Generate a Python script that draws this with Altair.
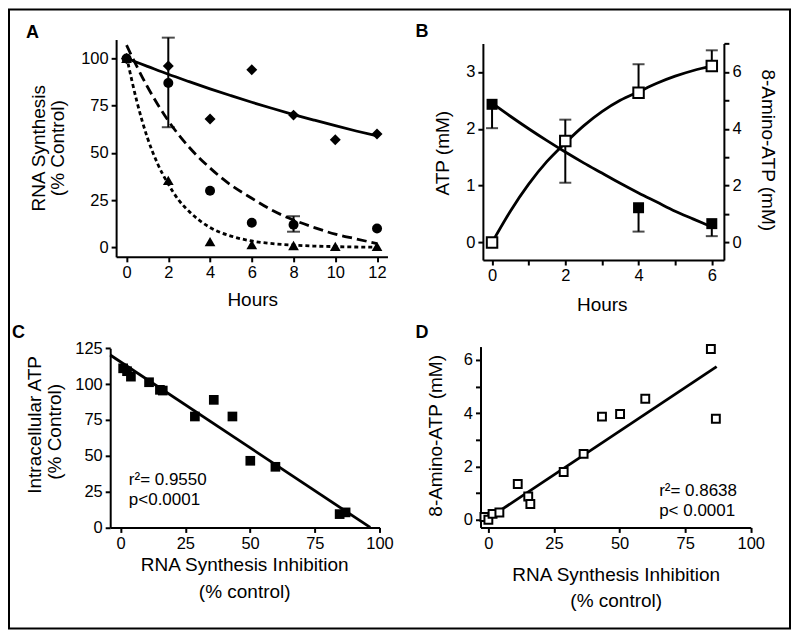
import altair as alt
import pandas as pd

FONT = "Liberation Sans"
O = 9  # page position of the view origin (8px margin + 1px padding)

# ---------------- Panel A data ----------------
a_hours = [0, 2, 4, 6, 8, 10, 12]
a_diamond = [100, 96, 68, 94, 70, 57, 60]
a_circle_hours = [0, 2, 4, 6, 8, 12]
a_circle = [100, 87, 30, 13, 12, 10]
a_triangle = [100, 35.5, 3, 1.5, 1, 0.5, 0.5]
a_err_hours = [2, 8]
a_err_lo = [63.6, 8.3]
a_err_hi = [111, 16.5]
a_fit_hours = [0, 1, 2, 3, 4, 5, 6, 7, 8, 9, 10, 11, 12]
a_fit_solid = [100, 95.8, 91.6, 87.7, 83.9, 80.3, 76.8, 73.5, 70.3, 67.3, 64.4, 61.6, 59]
a_fit_dashed = [107, 85, 67, 53, 42, 33, 26, 19.5, 14.5, 10.5, 7, 4.5, 2]
a_fit_dot_hours = [0, 0.5, 1, 1.5, 2, 2.5, 3, 4, 5, 6, 7, 8, 9, 10, 11, 12]
a_fit_dotted = [101, 77, 58, 44, 33.5, 25, 19, 10.5, 6, 3.4, 2, 1.2, 0.7, 0.4, 0.2, 0.1]

# ---------------- Panel B data ----------------
b_hours = [0, 2, 4, 6]
b_atp = [2.43, 1.79, 0.61, 0.33]
b_atp_err_lo = [2.01, 1.05, 0.19, 0.11]
b_amino = [0, 3.57, 5.27, 6.21]
b_amino_err_hi = [0, 4.32, 6.27, 6.76]
b_fit_hours = [0, 0.5, 1, 1.5, 2, 2.5, 3, 3.5, 4, 4.5, 5, 5.5, 6]
b_fit_atp = [2.45, 2.22, 2.0, 1.79, 1.59, 1.4, 1.22, 1.04, 0.87, 0.71, 0.55, 0.41, 0.27]
b_fit_amino = [0, 1.1, 2.05, 2.85, 3.5, 4.1, 4.6, 5.0, 5.3, 5.6, 5.85, 6.05, 6.2]

# ---------------- Panel C data ----------------
c_inhib = [1, 2.5, 4, 11, 15.2, 16.3, 28.7, 36, 43.2, 50.1, 59.8, 84.6, 86.9]
c_atp = [111, 109, 105.2, 101.3, 96, 95.5, 77.4, 89, 77.4, 46.5, 42.3, 9.3, 10.5]
c_fit_x = [-4, 96.4]
c_fit_y = [120.3, 0]

# ---------------- Panel D data ----------------
d_inhib = [-1.5, 0, 1.6, 4.2, 11.2, 15.2, 16, 28.7, 36.3, 43.3, 50.2, 59.8, 84.8, 86.7]
d_amino = [0.1, 0, 0.22, 0.27, 1.34, 0.87, 0.59, 1.79, 2.47, 3.87, 3.97, 4.54, 6.41, 3.79]
d_fit_x = [0, 87]
d_fit_y = [0.05, 5.75]

# ---------------- texts ----------------
panel_letters = ["A", "B", "C", "D"]
hours_title = "Hours"
a_ytitle = ["RNA Synthesis", "(% Control)"]
b_ytitle_left = "ATP (mM)"
b_ytitle_right = "8-Amino-ATP (mM)"
c_ytitle = ["Intracellular ATP", "(% Control)"]
cd_xtitle = ["RNA Synthesis Inhibition", "(% control)"]
d_ytitle = "8-Amino-ATP (mM)"
c_stats = ["r\u00b2= 0.9550", "p<0.0001"]
d_stats = ["r\u00b2= 0.8638", "p< 0.0001"]

W, H = 782, 620
TS = 19  # axis title font size


def rel(v):
    return v - O


def xax(values, offset_y, label_expr=None):
    kw = dict(orient="bottom", values=values, offset=-(H - offset_y), title=None,
              labelFlush=False, labelOverlap=False, labelBound=False)
    if label_expr:
        kw["labelExpr"] = label_expr
    return alt.Axis(**kw)


def yax(values, offset_x, orient="left", label_expr=None):
    off = -offset_x if orient == "left" else -(W - offset_x)
    kw = dict(orient=orient, values=values, offset=off, title=None,
              labelFlush=False, labelOverlap=False, labelBound=False)
    if label_expr:
        kw["labelExpr"] = label_expr
    return alt.Axis(**kw)


EVEN = "datum.value % 2 == 0 ? datum.label : ''"

# ---------- Panel A ----------
axA_x = dict(scale=alt.Scale(domain=[-0.5, 12.5], range=[107.25, 378.95], nice=False, zero=False),
             axis=xax(a_hours, 247.76))
axA_y = dict(scale=alt.Scale(domain=[-5, 110], range=[247.76, 30.18], nice=False, zero=False),
             axis=yax([0, 25, 50, 75, 100], 107.25))

dfA_d = pd.DataFrame({"h": a_hours, "v": a_diamond})
dfA_c = pd.DataFrame({"h": a_circle_hours, "v": a_circle})
dfA_t = pd.DataFrame({"h": a_hours, "v": a_triangle})
dfA_e = pd.DataFrame({"h": a_err_hours, "lo": a_err_lo, "hi": a_err_hi})
dfA_f = pd.DataFrame({"h": a_fit_hours, "s": a_fit_solid, "d": a_fit_dashed})
dfA_fd = pd.DataFrame({"h": a_fit_dot_hours, "v": a_fit_dotted})

XA = alt.X("h:Q", **axA_x)

A = alt.layer(
    alt.Chart(dfA_e).mark_rule(color="black", strokeWidth=2).encode(
        x=XA, y=alt.Y("lo:Q", **axA_y), y2="hi:Q"),
    alt.Chart(dfA_e).mark_tick(orient="horizontal", color="black", size=13, thickness=2).encode(
        x=XA, y=alt.Y("lo:Q", **axA_y)),
    alt.Chart(dfA_e).mark_tick(orient="horizontal", color="black", size=13, thickness=2).encode(
        x=XA, y=alt.Y("hi:Q", **axA_y)),
    alt.Chart(dfA_f).mark_line(color="black", strokeWidth=2.8, interpolate="monotone").encode(
        x=XA, y=alt.Y("s:Q", **axA_y)),
    alt.Chart(dfA_f).mark_line(color="black", strokeWidth=2.8, interpolate="monotone",
                               strokeDash=[10, 5]).encode(x=XA, y=alt.Y("d:Q", **axA_y)),
    alt.Chart(dfA_fd).mark_line(color="black", strokeWidth=2.8, interpolate="monotone",
                                strokeDash=[4, 3]).encode(x=XA, y=alt.Y("v:Q", **axA_y)),
    alt.Chart(dfA_d).mark_point(shape="diamond", filled=True, color="black", size=121, opacity=1).encode(
        x=XA, y=alt.Y("v:Q", **axA_y)),
    alt.Chart(dfA_t).mark_point(shape="triangle-up", filled=True, color="black", size=115, opacity=1).encode(
        x=XA, y=alt.Y("v:Q", **axA_y)),
    alt.Chart(dfA_c).mark_point(shape="circle", filled=True, color="black", size=100, opacity=1).encode(
        x=XA, y=alt.Y("v:Q", **axA_y)),
)

# ---------- Panel B ----------
XB = alt.X("h:Q", scale=alt.Scale(domain=[-0.25, 6.33], range=[474.5, 715.8], nice=False, zero=False),
           axis=xax([0, 1, 2, 3, 4, 5, 6], 250.94, EVEN))
axB_l = dict(scale=alt.Scale(domain=[-0.31, 3.5], range=[250.94, 34.15], nice=False, zero=False),
             axis=yax([0, 1, 2, 3], 474.5))
axB_r = dict(scale=alt.Scale(domain=[-0.62, 7.0], range=[250.94, 34.15], nice=False, zero=False),
             axis=yax([0, 1, 2, 3, 4, 5, 6, 7], 715.8, orient="right", label_expr=EVEN))

dfB_atp = pd.DataFrame({"h": b_hours, "v": b_atp, "lo": b_atp_err_lo})
dfB_am = pd.DataFrame({"h": b_hours, "v": b_amino, "hi": b_amino_err_hi})
dfB_f = pd.DataFrame({"h": b_fit_hours, "atp": b_fit_atp, "am": b_fit_amino})

B_left = alt.layer(
    alt.Chart(dfB_atp).mark_rule(color="black", strokeWidth=2).encode(
        x=XB, y=alt.Y("lo:Q", **axB_l), y2="v:Q"),
    alt.Chart(dfB_atp).mark_tick(orient="horizontal", color="black", size=12, thickness=2).encode(
        x=XB, y=alt.Y("lo:Q", **axB_l)),
    alt.Chart(dfB_f).mark_line(color="black", strokeWidth=2.8, interpolate="monotone").encode(
        x=XB, y=alt.Y("atp:Q", **axB_l)),
    alt.Chart(dfB_atp).mark_point(shape="square", filled=True, color="black", size=121, opacity=1).encode(
        x=XB, y=alt.Y("v:Q", **axB_l)),
)
B_right = alt.layer(
    alt.Chart(dfB_am).mark_rule(color="black", strokeWidth=2).encode(
        x=XB, y=alt.Y("v:Q", **axB_r), y2="hi:Q"),
    alt.Chart(dfB_am).mark_tick(orient="horizontal", color="black", size=12, thickness=2).encode(
        x=XB, y=alt.Y("hi:Q", **axB_r)),
    alt.Chart(dfB_f).mark_line(color="black", strokeWidth=2.8, interpolate="monotone").encode(
        x=XB, y=alt.Y("am:Q", **axB_r)),
    alt.Chart(dfB_am).mark_point(shape="square", filled=True, fill="white", stroke="black",
                                 strokeWidth=2, size=110, opacity=1).encode(
        x=XB, y=alt.Y("v:Q", **axB_r)),
)
B = alt.layer(B_left, B_right).resolve_scale(y="independent")

# ---------- Panel C ----------
XC = alt.X("x:Q", scale=alt.Scale(domain=[-4, 100], range=[101.33, 371.0], nice=False, zero=False),
           axis=xax([0, 25, 50, 75, 100], 518.7))
axC_y = dict(scale=alt.Scale(domain=[0, 125], range=[518.7, 339.3], nice=False, zero=False),
             axis=yax([0, 25, 50, 75, 100, 125], 101.33))
dfC = pd.DataFrame({"x": c_inhib, "y": c_atp})
dfC_f = pd.DataFrame({"x": c_fit_x, "y": c_fit_y})
C = alt.layer(
    alt.Chart(dfC_f).mark_line(color="black", strokeWidth=2.8).encode(x=XC, y=alt.Y("y:Q", **axC_y)),
    alt.Chart(dfC).mark_point(shape="square", filled=True, color="black", size=94, opacity=1).encode(
        x=XC, y=alt.Y("y:Q", **axC_y)),
)

# ---------- Panel D ----------
XD = alt.X("x:Q", scale=alt.Scale(domain=[-3, 100], range=[472.1, 742.7], nice=False, zero=False),
           axis=xax([0, 25, 50, 75, 100], 518.7))
axD_y = dict(scale=alt.Scale(domain=[-0.29, 6.5], range=[518.7, 337.6], nice=False, zero=False),
             axis=yax([0, 1, 2, 3, 4, 5, 6], 472.1, label_expr=EVEN))
dfD = pd.DataFrame({"x": d_inhib, "y": d_amino})
dfD_f = pd.DataFrame({"x": d_fit_x, "y": d_fit_y})
D = alt.layer(
    alt.Chart(dfD_f).mark_line(color="black", strokeWidth=2.8).encode(x=XD, y=alt.Y("y:Q", **axD_y)),
    alt.Chart(dfD).mark_point(shape="square", filled=True, fill="white", stroke="black",
                              strokeWidth=2, size=62, opacity=1).encode(
        x=XD, y=alt.Y("y:Q", **axD_y)),
)


# ---------- text annotations ----------
def label(text, x, y, size=TS, angle=0, align="center", weight="normal"):
    return alt.Chart(pd.DataFrame({"t": [text]})).mark_text(
        align=align, baseline="alphabetic", angle=angle, fontSize=size, font=FONT,
        fontWeight=weight, color="black").encode(
        x=alt.value(rel(x)), y=alt.value(rel(y)), text="t:N")


texts = [
    label(panel_letters[0], 26, 38, 18, align="left", weight="bold"),
    label(panel_letters[1], 416, 37, 18, align="left", weight="bold"),
    label(panel_letters[2], 12, 338, 18, align="left", weight="bold"),
    label(panel_letters[3], 416, 338, 18, align="left", weight="bold"),
    label(hours_title, 253, 306),
    label(hours_title, 603, 311),
    label(a_ytitle[0], 45, 148, angle=270),
    label(a_ytitle[1], 64, 148, angle=270),
    label(b_ytitle_left, 450, 153, angle=270),
    label(b_ytitle_right, 763, 150, angle=90),
    label(c_ytitle[0], 41.5, 425, angle=270),
    label(c_ytitle[1], 61, 432, angle=270),
    label(cd_xtitle[0], 245, 571),
    label(cd_xtitle[1], 245, 598),
    label(d_ytitle, 443, 436, angle=270),
    label(cd_xtitle[0], 617, 581),
    label(cd_xtitle[1], 617, 607),
    label(c_stats[0], 129, 485.5, 17, align="left"),
    label(c_stats[1], 129, 505.5, 17, align="left"),
    label(d_stats[0], 660, 496, 17, align="left"),
    label(d_stats[1], 660, 516, 17, align="left"),
]

chart = alt.layer(A, B, C, D, *texts).resolve_scale(
    x="independent", y="independent"
).properties(
    width=W, height=H,
    autosize=alt.AutoSizeParams(type="none"),
    padding={"left": 1, "top": 1, "right": 2, "bottom": 2},
    background="white",
).configure_view(
    stroke="black", strokeWidth=2
).configure_axis(
    grid=False, domainColor="black", domainWidth=2, tickColor="black", tickWidth=2,
    tickSize=5, labelFont=FONT, labelFontSize=16.5, labelColor="black", labelPadding=3,
)

chart.save("out.html", embed_options={"renderer": "svg", "actions": False})
